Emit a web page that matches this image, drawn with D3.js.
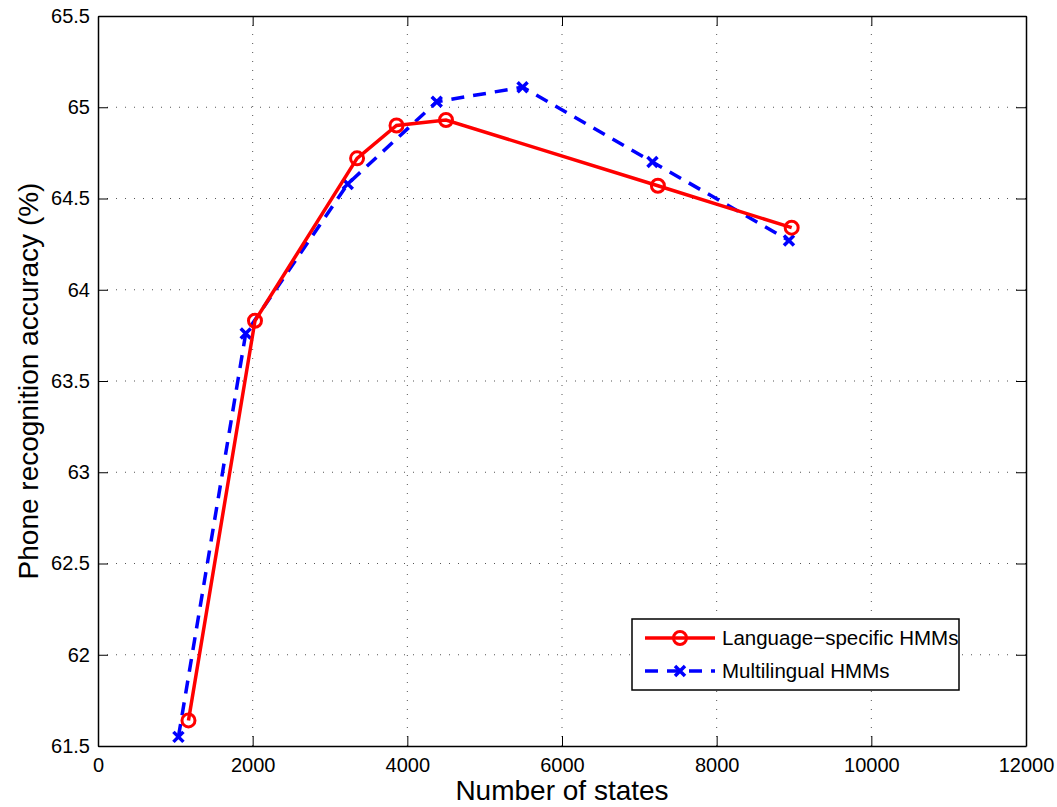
<!DOCTYPE html>
<html>
<head>
<meta charset="utf-8">
<script src="https://cdn.jsdelivr.net/npm/d3@7"></script>
<style>
  body { margin: 0; background: #fff; }
  svg { font-family: "Liberation Sans", Arial, sans-serif; }
</style>
</head>
<body>
<div id="chart"></div>
<script>
// data
let statesLang = [1170, 2030, 3350, 3860, 4500, 7240, 8970];
let accLang = [61.64, 63.83, 64.72, 64.90, 64.93, 64.57, 64.34];
let statesMulti = [1040, 1910, 3230, 4380, 5490, 7170, 8935];
let accMulti = [61.55, 63.76, 64.58, 65.03, 65.11, 64.70, 64.27];
let xTicks = [0, 2000, 4000, 6000, 8000, 10000, 12000];
let yTicks = [61.5, 62, 62.5, 63, 63.5, 64, 64.5, 65, 65.5];
let seriesNames = ['Language\u2212specific HMMs', 'Multilingual HMMs'];

let width = 1057, height = 807;
let plotLeft = 98, plotRight = 1026, plotTop = 16, plotBottom = 746;

let svg = d3.select('#chart').append('svg')
  .attr('width', width).attr('height', height);

let x = d3.scaleLinear().domain([0, 12000]).range([plotLeft, plotRight]);
let y = d3.scaleLinear().domain([61.5, 65.5]).range([plotBottom, plotTop]);

// dotted grid
let grid = svg.append('g');
grid.selectAll('.vg').data(xTicks.slice(1, -1)).enter().append('line')
  .attr('x1', d => x(d)).attr('x2', d => x(d))
  .attr('y1', plotTop).attr('y2', plotBottom)
  .attr('stroke', '#555').attr('stroke-width', 1)
  .attr('stroke-dasharray', '1,8');
grid.selectAll('.hg').data(yTicks.slice(1, -1)).enter().append('line')
  .attr('y1', d => y(d)).attr('y2', d => y(d))
  .attr('x1', plotLeft).attr('x2', plotRight)
  .attr('stroke', '#555').attr('stroke-width', 1)
  .attr('stroke-dasharray', '1,8');

// axes with inward ticks on all four sides
let fmt = d => String(d);
svg.append('g').attr('transform', `translate(0,${plotBottom})`)
  .call(d3.axisBottom(x).tickValues(xTicks).tickFormat(fmt).tickSizeInner(-10).tickSizeOuter(0).tickPadding(12));
svg.append('g').attr('transform', `translate(0,${plotTop})`)
  .call(d3.axisTop(x).tickValues(xTicks).tickFormat('').tickSizeInner(-10).tickSizeOuter(0));
svg.append('g').attr('transform', `translate(${plotLeft},0)`)
  .call(d3.axisLeft(y).tickValues(yTicks).tickFormat(fmt).tickSizeInner(-10).tickSizeOuter(0).tickPadding(8));
svg.append('g').attr('transform', `translate(${plotRight},0)`)
  .call(d3.axisRight(y).tickValues(yTicks).tickFormat('').tickSizeInner(-10).tickSizeOuter(0));

svg.selectAll('.domain').attr('stroke', '#000').attr('stroke-width', 1.5);
svg.selectAll('.tick line').attr('stroke', '#000');
svg.selectAll('.tick text').attr('font-size', 20).attr('fill', '#000')
  .attr('font-family', '"Liberation Sans", Arial, sans-serif');

// axis titles
svg.append('text').attr('x', (plotLeft + plotRight) / 2).attr('y', 800)
  .attr('text-anchor', 'middle').attr('font-size', 28).text('Number of states');
svg.append('text')
  .attr('transform', `translate(38,${(plotTop + plotBottom) / 2}) rotate(-90)`)
  .attr('text-anchor', 'middle').attr('font-size', 28).text('Phone recognition accuracy (%)');

let line = d3.line().x(d => x(d[0])).y(d => y(d[1]));
let lang = statesLang.map((s, i) => [s, accLang[i]]);
let multi = statesMulti.map((s, i) => [s, accMulti[i]]);

function crossPath(cx, cy, r) {
  return `M${cx - r},${cy - r}L${cx + r},${cy + r}M${cx - r},${cy + r}L${cx + r},${cy - r}`;
}

// multilingual (blue dashed, x markers)
svg.append('path').datum(multi).attr('d', line)
  .attr('fill', 'none').attr('stroke', '#0000ff').attr('stroke-width', 3.5)
  .attr('stroke-dasharray', '13,9');
svg.selectAll('.xm').data(multi).enter().append('path')
  .attr('d', d => crossPath(x(d[0]), y(d[1]), 5))
  .attr('stroke', '#0000ff').attr('stroke-width', 3.5).attr('fill', 'none');

// language-specific (red solid, circle markers)
svg.append('path').datum(lang).attr('d', line)
  .attr('fill', 'none').attr('stroke', '#ff0000').attr('stroke-width', 3.5);
svg.selectAll('.cm').data(lang).enter().append('circle')
  .attr('cx', d => x(d[0])).attr('cy', d => y(d[1])).attr('r', 6.5)
  .attr('fill', 'none').attr('stroke', '#ff0000').attr('stroke-width', 3);

// legend
let lg = svg.append('g');
lg.append('rect').attr('x', 632).attr('y', 619).attr('width', 327).attr('height', 71)
  .attr('fill', '#fff').attr('stroke', '#000').attr('stroke-width', 1.5);
lg.append('line').attr('x1', 645).attr('x2', 715).attr('y1', 638).attr('y2', 638)
  .attr('stroke', '#ff0000').attr('stroke-width', 3.5);
lg.append('circle').attr('cx', 680).attr('cy', 638).attr('r', 6.5)
  .attr('fill', 'none').attr('stroke', '#ff0000').attr('stroke-width', 3);
lg.append('line').attr('x1', 645).attr('x2', 715).attr('y1', 671).attr('y2', 671)
  .attr('stroke', '#0000ff').attr('stroke-width', 3.5).attr('stroke-dasharray', '13,9');
lg.append('path').attr('d', crossPath(680, 671, 5))
  .attr('stroke', '#0000ff').attr('stroke-width', 3.5).attr('fill', 'none');
lg.selectAll('.lt').data(seriesNames).enter().append('text')
  .attr('x', 722).attr('y', (d, i) => 645 + i * 33)
  .attr('font-size', 20.5).text(d => d);
</script>
</body>
</html>
